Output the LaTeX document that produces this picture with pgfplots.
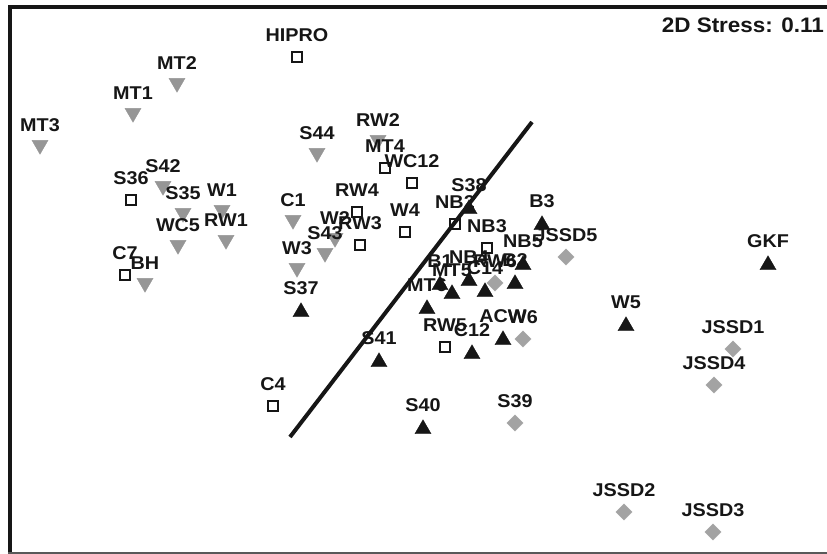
\documentclass[border=0pt]{standalone}
\usepackage{pgfplots}
\pgfplotsset{compat=1.18}
\usepackage{pgfplotstable}
\usepackage{fontspec}
\setmainfont{Liberation Sans}
\newfontfamily\labfont{Liberation Sans}[FakeStretch=1.07]
\definecolor{mgrey}{RGB}{150,150,150}
\definecolor{dgrey}{RGB}{163,163,163}
\definecolor{ink}{RGB}{22,22,22}

\pgfplotstableread{
x y label
40 145 MT3
133 113 MT1
177 83 MT2
163 186 S42
183 213 S35
222 210 W1
226 240 RW1
178 245 WC5
145 283 BH
317 153 S44
378 140 RW2
293 220 C1
335 238 W2
325 253 S43
297 268 W3
}\greydown

\pgfplotstableread{
x y label
297 57 HIPRO
131 200 S36
125 275 C7
273 406 C4
385 168 MT4
412 183 WC12
357 212 RW4
360 245 RW3
405 232 W4
455 224 NB2
487 248 NB3
445 347 RW5
}\squares

\pgfplotstableread{
x y label
469 209 S38
542 225 B3
523 265 NB5
515 284 B2
469 281 NB4
440 285 B1
452 294 MT5
485 292 C14
427 309 MT6
301 312 S37
379 362 S41
472 354 C12
503 340 ACW
423 429 S40
626 326 W5
768 265 GKF
}\blackup

\pgfplotstableread{
x y label
566 257 JSSD5
495 283 RW6
523 339 W6
515 423 S39
733 349 JSSD1
714 385 JSSD4
624 512 JSSD2
713 532 JSSD3
}\diamonds

\begin{document}
\begin{tikzpicture}
\begin{axis}[
  at={(0,0)}, anchor=south west,
  scale only axis, width=827pt, height=554pt,
  xmin=0, xmax=827, ymin=0, ymax=554, y dir=reverse,
  hide axis, clip=false,
  lbl/.style={nodes near coords, point meta=explicit symbolic,
    every node near coord/.style={anchor=base, inner sep=0pt,
      font=\labfont\bfseries\fontsize{18.5}{18.5}\selectfont, text=ink, yshift=#1}},
]
\draw[line width=4pt, ink] (axis cs:9.5,554) -- (axis cs:9.5,7) -- (axis cs:827,7);
\draw[line width=2pt, black!65] (axis cs:8,552.5) -- (axis cs:827,552.5);

\addplot[only marks, mark=triangle*, mark size=9.3pt,
  mark options={rotate=180, fill=mgrey, draw=mgrey, line width=0.3pt},
  lbl=13.25pt] table[meta=label] {\greydown};
\addplot[only marks, mark=square, mark size=5.2pt,
  mark options={draw=ink, line width=1.9pt},
  lbl=15.5pt] table[meta=label] {\squares};
\addplot[only marks, mark=triangle*, mark size=9.3pt,
  mark options={fill=ink, draw=ink, line width=0.3pt},
  lbl=17.75pt] table[meta=label] {\blackup};
\addplot[only marks, mark=square*, mark size=5.8pt,
  mark options={rotate=45, fill=dgrey, draw=dgrey, line width=0.3pt},
  lbl=15.5pt] table[meta=label] {\diamonds};

\addplot[ink, line width=4pt, no marks] coordinates {(290,437) (532,122)};

\node[anchor=base east, inner sep=0pt, text=ink,
  font=\labfont\bfseries\fontsize{21}{21}\selectfont] at (axis cs:824,32) {2D Stress: 0.11};
\end{axis}
\pgfresetboundingbox
\path (0,0) rectangle (827pt,554pt);
\end{tikzpicture}
\end{document}
